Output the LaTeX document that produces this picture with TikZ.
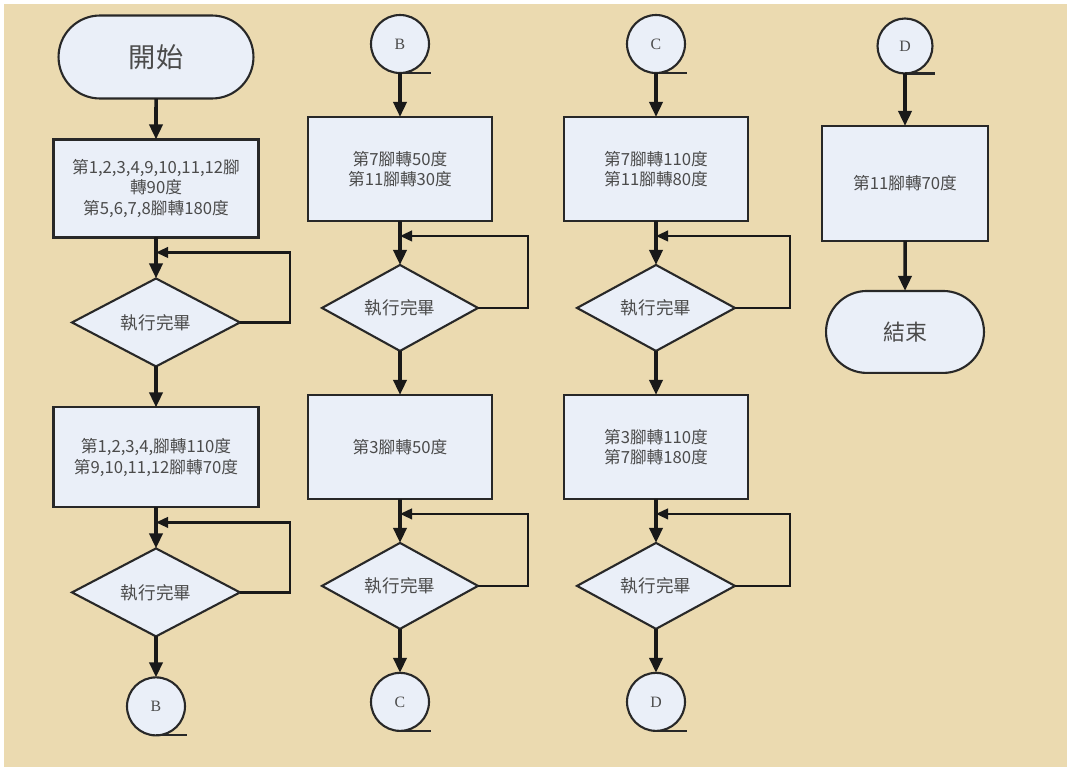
\documentclass[tikz,border=0pt]{standalone}
\usepackage{fontspec}
\setmainfont{Liberation Serif}
\newfontfamily\cjk{Noto Sans CJK TC}
\usetikzlibrary{arrows.meta,positioning,shapes.geometric,shapes.misc}

\definecolor{paper}{RGB}{235,218,176}
\definecolor{shapefill}{RGB}{234,239,248}
\definecolor{edge}{RGB}{40,40,40}
\definecolor{txt}{RGB}{75,75,75}

\begin{document}
\begin{tikzpicture}[
    x=0.02cm, y=-0.02cm,
    base/.style={draw=edge, line width=1.2pt, fill=shapefill, text=txt, outer sep=0pt},
    box/.style={base, rectangle, align=center, inner sep=2pt, font=\cjk\fontsize{9.5}{11.5}\selectfont},
    term/.style={base, rounded rectangle, inner sep=2pt},
    check/.style={base, diamond, aspect=2, inner sep=0pt, font=\cjk\fontsize{10}{12}\selectfont},
    conn/.style={base, circle, minimum size=1.16cm, inner sep=0pt, font=\fontsize{9}{10}\selectfont},
    tail/.style={draw=edge, line width=1.2pt},
    arrow/.style={-{Triangle[length=3mm,width=2.6mm]}, line width=2pt, draw=black!90},
    back/.style={-{Triangle[length=2.4mm,width=2.1mm]}, line width=1.3pt, draw=black!90}
  ]
    \fill[white] (0,0) rectangle (1071,771);
    \fill[paper] (4,4) rectangle (1067,767);

    % first column
    \node[term, minimum width=4.04cm, minimum height=1.66cm, font=\cjk\fontsize{15.5}{17}\selectfont] (start) at (156,57) {開始};
    \node[box, minimum width=4.1cm, minimum height=1.96cm, below=0.82cm of start] (turn1) {第1,2,3,4,9,10,11,12腳\\轉90度\\第5,6,7,8腳轉180度};
    \node[check, minimum width=3.36cm, minimum height=1.76cm, below=0.82cm of turn1] (done1) {執行完畢};
    \node[box, minimum width=4.1cm, minimum height=2.0cm, below=0.82cm of done1] (turn2) {第1,2,3,4,腳轉110度\\第9,10,11,12腳轉70度};
    \node[check, minimum width=3.36cm, minimum height=1.76cm, below=0.82cm of turn2] (done2) {執行完畢};
    \node[conn, below=0.82cm of done2] (toB) {B};

    % second column
    \node[conn] (fromB) at (400,44) {B};
    \node[box, minimum width=3.68cm, minimum height=2.08cm, below=0.88cm of fromB] (turn3) {第7腳轉50度\\第11腳轉30度};
    \node[check, minimum width=3.12cm, minimum height=1.72cm, below=0.88cm of turn3] (done3) {執行完畢};
    \node[box, minimum width=3.68cm, minimum height=2.08cm, below=0.88cm of done3] (turn4) {第3腳轉50度};
    \node[check, minimum width=3.12cm, minimum height=1.72cm, below=0.88cm of turn4] (done4) {執行完畢};
    \node[conn, below=0.88cm of done4] (toC) {C};

    % third column
    \node[conn] (fromC) at (656,44) {C};
    \node[box, minimum width=3.68cm, minimum height=2.08cm, below=0.88cm of fromC] (turn5) {第7腳轉110度\\第11腳轉80度};
    \node[check, minimum width=3.16cm, minimum height=1.72cm, below=0.88cm of turn5] (done5) {執行完畢};
    \node[box, minimum width=3.68cm, minimum height=2.08cm, below=0.88cm of done5] (turn6) {第3腳轉110度\\第7腳轉180度};
    \node[check, minimum width=3.16cm, minimum height=1.72cm, below=0.88cm of turn6] (done6) {執行完畢};
    \node[conn, below=0.88cm of done6] (toD) {D};

    % fourth column
    \node[conn, minimum size=1.1cm] (fromD) at (905,46) {D};
    \node[box, minimum width=3.32cm, minimum height=2.3cm, below=1.05cm of fromD] (turn7) {第11腳轉70度};
    \node[term, minimum width=3.3cm, minimum height=1.64cm, font=\cjk\fontsize{12.5}{14}\selectfont, below=1.0cm of turn7] (finish) {結束};

    % connector tails
    \draw[tail] (toB.south) -- ++(0.62cm,0);
    \draw[tail] (fromB.south) -- ++(0.62cm,0);
    \draw[tail] (toC.south) -- ++(0.62cm,0);
    \draw[tail] (fromC.south) -- ++(0.62cm,0);
    \draw[tail] (toD.south) -- ++(0.62cm,0);
    \draw[tail] (fromD.south) -- ++(0.6cm,0);

    % waiting points
    \coordinate (wait1) at ([yshift=-0.3cm]turn1.south);
    \coordinate (wait2) at ([yshift=-0.3cm]turn2.south);
    \coordinate (wait3) at ([yshift=-0.3cm]turn3.south);
    \coordinate (wait4) at ([yshift=-0.3cm]turn4.south);
    \coordinate (wait5) at ([yshift=-0.3cm]turn5.south);
    \coordinate (wait6) at ([yshift=-0.3cm]turn6.south);

    \draw[arrow] (start) -- (turn1);
    \draw[arrow] (turn1) -- (done1);
    \draw[back] (done1.east) -- ++(1cm,0) |- (wait1);
    \draw[arrow] (done1) -- (turn2);
    \draw[arrow] (turn2) -- (done2);
    \draw[back] (done2.east) -- ++(1cm,0) |- (wait2);
    \draw[arrow] (done2) -- (toB);

    \draw[arrow] (fromB) -- (turn3);
    \draw[arrow] (turn3) -- (done3);
    \draw[back] (done3.east) -- ++(1cm,0) |- (wait3);
    \draw[arrow] (done3) -- (turn4);
    \draw[arrow] (turn4) -- (done4);
    \draw[back] (done4.east) -- ++(1cm,0) |- (wait4);
    \draw[arrow] (done4) -- (toC);

    \draw[arrow] (fromC) -- (turn5);
    \draw[arrow] (turn5) -- (done5);
    \draw[back] (done5.east) -- ++(1.1cm,0) |- (wait5);
    \draw[arrow] (done5) -- (turn6);
    \draw[arrow] (turn6) -- (done6);
    \draw[back] (done6.east) -- ++(1.1cm,0) |- (wait6);
    \draw[arrow] (done6) -- (toD);

    \draw[arrow] (fromD) -- (turn7);
    \draw[arrow] (turn7) -- (finish);
  \end{tikzpicture}
\end{document}
